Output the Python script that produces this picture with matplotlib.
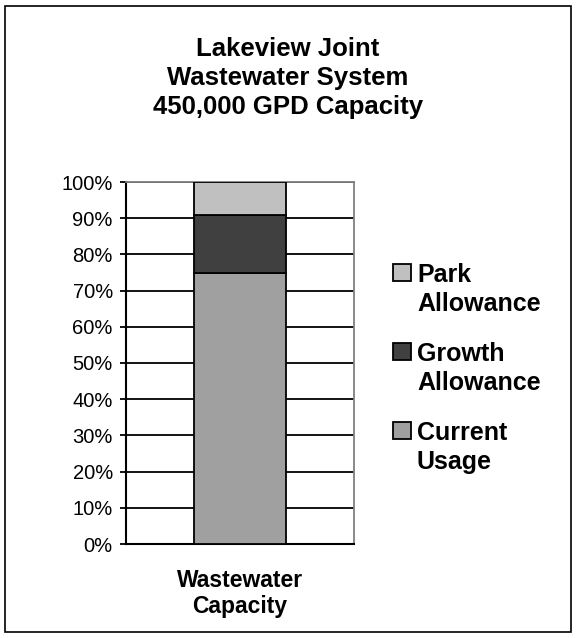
import matplotlib

matplotlib.use("Agg")
import matplotlib.pyplot as plt
from matplotlib.patches import Rectangle
from matplotlib.ticker import PercentFormatter

plt.rcParams["font.family"] = ["Liberation Sans", "DejaVu Sans"]

categories = ["Wastewater\nCapacity"]
series_names = ["Current\nUsage", "Growth\nAllowance", "Park\nAllowance"]
series_values = [[75.0], [16.0], [9.0]]
series_colors = ["#a0a0a0", "#404040", "#c0c0c0"]
y_ticks = [0, 10, 20, 30, 40, 50, 60, 70, 80, 90, 100]

W, H = 576, 638
fig = plt.figure(figsize=(W / 100, H / 100), dpi=100)
fig.patches.append(Rectangle((0.009, 0.009), 0.982, 0.982, transform=fig.transFigure,
                             fill=False, edgecolor="black", linewidth=1.2))

ax = fig.add_axes([126 / W, 1 - 544 / H, 228 / W, 362 / H])

x = list(range(len(categories)))
bottom = [0.0] * len(categories)
for name, vals, col in zip(series_names, series_values, series_colors):
    ax.bar(x, vals, width=0.4, bottom=bottom, color=col, edgecolor="black",
           linewidth=1.3, label=name, zorder=3)
    bottom = [b + v for b, v in zip(bottom, vals)]

ax.set_xlim(-0.5, 0.5)
ax.set_ylim(0, 100)
ax.set_yticks(y_ticks)
ax.yaxis.set_major_formatter(PercentFormatter(decimals=0))
ax.set_xticks(x)
ax.set_xticklabels(categories, fontsize=16.5, fontweight="bold", linespacing=1.15)
ax.tick_params(axis="x", length=0, pad=18)
ax.tick_params(axis="y", length=4.5, width=1.3, labelsize=14.5, direction="out", pad=5)
ax.grid(axis="y", color="black", linewidth=1.3, zorder=0)
ax.set_axisbelow(True)
for side in ["top", "right"]:
    ax.spines[side].set_color("#808080")
    ax.spines[side].set_linewidth(1.3)
for side in ["left", "bottom"]:
    ax.spines[side].set_linewidth(1.5)

fig.text(0.5, 1 - 78 / H, "Lakeview Joint\nWastewater System\n450,000 GPD Capacity",
         ha="center", va="center", fontsize=18.5, fontweight="bold", linespacing=1.25)

# legend drawn by hand so each swatch lines up with the first text line
legend_rows = list(zip(series_names, series_colors))[::-1]
row_top = 264
for name, col in legend_rows:
    fig.patches.append(Rectangle((393 / W, 1 - (row_top + 17) / H), 18 / W, 17 / H,
                                 transform=fig.transFigure, facecolor=col,
                                 edgecolor="black", linewidth=1.3))
    fig.text(417 / W, 1 - (row_top - 1) / H, name, ha="left", va="top",
             fontsize=18, fontweight="bold", linespacing=1.25)
    row_top += 79

fig.savefig("out.png", dpi=100)
